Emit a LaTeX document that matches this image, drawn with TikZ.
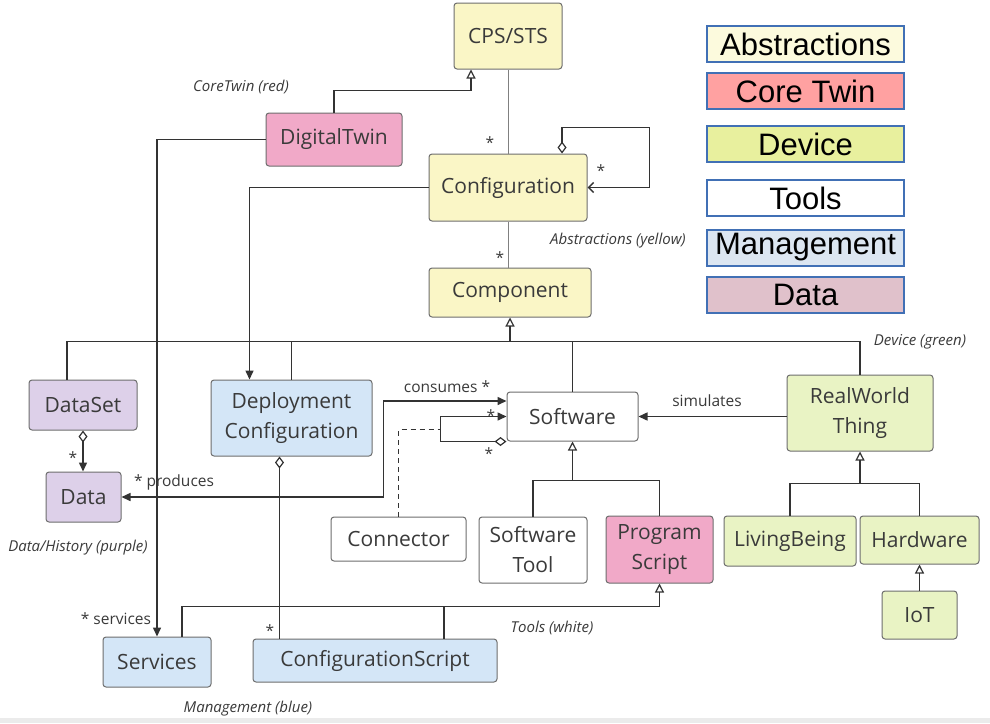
\documentclass[tikz,border=0pt]{standalone}
\usepackage{fontspec}
\setmainfont{Open Sans}
\newfontfamily\keyfont{Liberation Sans}
\usetikzlibrary{arrows.meta}

\definecolor{ink}{HTML}{3A3A3A}
\definecolor{edge}{HTML}{333333}
\definecolor{boxline}{HTML}{6E6E6E}
\definecolor{abstr}{HTML}{FAF6C6}
\definecolor{core}{HTML}{F1A9C8}
\definecolor{device}{HTML}{E9F3C4}
\definecolor{manage}{HTML}{D4E6F7}
\definecolor{history}{HTML}{DDD0E9}
\definecolor{keyline}{HTML}{4170B5}

\tikzset{
    cls/.style={draw=boxline, line width=1pt, rounded corners=3pt, text=ink,
        align=center, inner sep=0pt, font=\fontsize{21}{30}\selectfont},
    line/.style={draw=edge, line width=1.5pt},
    assoc/.style={draw=gray, line width=0.9pt},
    gen/.style={line, -{Triangle[open, length=9pt, width=9pt, line width=1.2pt]}},
    dir/.style={line, -{Triangle[length=9pt, width=8pt]}},
    aggr/.style={line, {Diamond[open, length=12pt, width=9pt, line width=1.2pt]}-},
    aggrdir/.style={line, {Diamond[open, length=12pt, width=9pt, line width=1.2pt]}-{Triangle[length=9pt, width=8pt]}},
    aggrbarb/.style={line, {Diamond[open, length=12pt, width=9pt, line width=1.2pt]}-{Straight Barb[length=5pt, width=10pt]}},
    twoway/.style={line, {Triangle[length=9pt, width=8pt]}-{Triangle[length=9pt, width=8pt]}},
    mult/.style={text=ink, inner sep=0pt, font=\fontsize{15.5}{18}\selectfont},
    note/.style={text=ink, inner sep=0pt, font=\fontsize{15}{18}\selectfont\itshape},
    key/.style={draw=keyline, line width=2pt, inner sep=0pt, minimum width=197pt,
        minimum height=36pt, font=\keyfont\fontsize{31}{34}\selectfont}
}

\begin{document}
\begin{tikzpicture}[x=1pt, y=-1pt]
    \fill[white] (0,0) rectangle (990,723);
    \fill[black!8] (0,718) rectangle (990,723);
    \useasboundingbox (0,0) rectangle (990,723);

    % classes
    \node[cls, fill=abstr, minimum width=108, minimum height=66] (cps) at (508,36) {CPS/STS};
    \node[cls, fill=core, minimum width=136, minimum height=53] (twin) at (334,139.5) {DigitalTwin};
    \node[cls, fill=abstr, minimum width=158, minimum height=67] (config) at (508,187.5) {Configuration};
    \node[cls, fill=abstr, minimum width=162, minimum height=49] (comp) at (510,292.5) {Component};
    \node[cls, fill=history, minimum width=108, minimum height=50] (dataset) at (83,405) {DataSet};
    \node[cls, fill=history, minimum width=75, minimum height=50] (data) at (83.5,497) {Data};
    \node[cls, fill=manage, minimum width=161, minimum height=76] (deploy) at (291.5,418) {Deployment\\Configuration};
    \node[cls, fill=white, minimum width=131, minimum height=49] (software) at (572.5,416.5) {Software};
    \node[cls, fill=device, minimum width=146, minimum height=76] (thing) at (860,413) {RealWorld\\Thing};
    \node[cls, fill=white, minimum width=135, minimum height=44] (connector) at (398.5,539) {Connector};
    \node[cls, fill=white, minimum width=108, minimum height=66] (swtool) at (533,550) {Software\\Tool};
    \node[cls, fill=core, minimum width=107, minimum height=67] (script) at (659.5,549.5) {Program\\Script};
    \node[cls, fill=device, minimum width=132, minimum height=50] (living) at (790,541) {LivingBeing};
    \node[cls, fill=device, minimum width=119, minimum height=48] (hardware) at (919.5,540) {Hardware};
    \node[cls, fill=device, minimum width=75, minimum height=48] (iot) at (919.5,615) {IoT};
    \node[cls, fill=manage, minimum width=108, minimum height=50] (services) at (157,662) {Services};
    \node[cls, fill=manage, minimum width=244, minimum height=43] (cfgscript) at (375,660.5) {ConfigurationScript};

    % colour key
    \node[key, fill=abstr!60] (kabstr) at (805.5,44) {Abstractions};
    \node[key, fill=red!37] (kcore) at (805.5,91) {Core Twin};
    \node[key, fill={rgb,255:red,232;green,240;blue,158}] (kdevice) at (805.5,144) {Device};
    \node[key, fill=white] (ktools) at (805.5,198) {Tools};
    \node[key, fill={rgb,255:red,220;green,230;blue,241}] (kmanage) at (805.5,247.5) {Management};
    \node[key, fill={rgb,255:red,224;green,193;blue,203}] (khistory) at (805.5,295) {Data};

    % helper points
    \coordinate (genbus) at ([yshift=-24pt]comp.south);
    \coordinate (swbus) at ([yshift=-39pt]software.south);
    \coordinate (thingbus) at ([yshift=-32pt]thing.south);
    \coordinate (toolbus) at ([yshift=-23pt]script.south);
    \coordinate (loopside) at ([xshift=-66pt, yshift=12pt]software.south west);

    % connectors
    \draw[gen] (twin.north) -- ++(0,-22) -| ([xshift=-37pt]cps.south);
    \draw[assoc] (cps) -- (config);
    \draw[aggrbarb] ([xshift=54pt]config.north) -- ++(0,-26) -| ([xshift=62pt]config.east) -- (config.east);
    \draw[assoc] (config.south) -- (config.south |- comp.north);
    \draw[gen] (genbus) -- (comp.south);
    \draw[line] ([xshift=-16pt]dataset.north) |- (genbus) -| (thing.north);
    \draw[line] (deploy.north) -- (deploy.north |- genbus);
    \draw[line] (software.north) -- (software.north |- genbus);
    \draw[dir] (config.west) -| ([xshift=-42pt]deploy.north);
    \draw[dir] (twin.west) -| (services.north);
    \draw[aggrdir] (dataset.south) -- (dataset.south |- data.north);
    \draw[aggr] ([xshift=-12pt]deploy.south) -- ([xshift=-12pt]deploy.south |- cfgscript.north);
    \draw[twoway] (data.east) -- ++(262,0) |- ([yshift=15.5pt]software.west);
    \draw[aggrdir] (software.south west) -- ++(-66,0) |- (software.west);
    \draw[line, line width=1.2pt, dashed, dash pattern=on 5pt off 4pt] (connector.north) |- (loopside);
    \draw[line] (swtool.north) |- (swbus) -| (script.north);
    \draw[gen] (swbus) -- (software.south);
    \draw[dir] (thing.west |- software.east) -- (software.east);
    \draw[line] (living.north) |- (thingbus) -| (hardware.north);
    \draw[gen] (thingbus) -- (thing.south);
    \draw[gen] (iot.north) -- (hardware.south);
    \draw[line] ([xshift=25pt]services.north) |- (toolbus);
    \draw[line] ([xshift=69pt]cfgscript.north) -- ([xshift=69pt]cfgscript.north |- toolbus);
    \draw[gen] (toolbus) -- (script.south);

    % multiplicities and roles
    \node[mult] (m1) at (490,143) {*};
    \node[mult] (m2) at (601,171) {*};
    \node[mult] (m3) at (500,258) {*};
    \node[mult] (m4) at (73,458) {*};
    \node[mult] (m5) at (174,482) {* produces};
    \node[mult] (m6) at (447,387) {consumes *};
    \node[mult] (m7) at (491,416) {*};
    \node[mult] (m8) at (489,454) {*};
    \node[mult] (m9) at (707,401) {simulates};
    \node[mult] (m10) at (116,619) {* services};
    \node[mult] (m11) at (270,631) {*};

    % group notes
    \node[note] (n1) at (241,87) {CoreTwin (red)};
    \node[note] (n2) at (618,241) {Abstractions (yellow)};
    \node[note] (n3) at (920,342) {Device (green)};
    \node[note] (n4) at (78,548) {Data/History (purple)};
    \node[note] (n5) at (552,628) {Tools (white)};
    \node[note] (n6) at (248,709) {Management (blue)};
\end{tikzpicture}
\end{document}
